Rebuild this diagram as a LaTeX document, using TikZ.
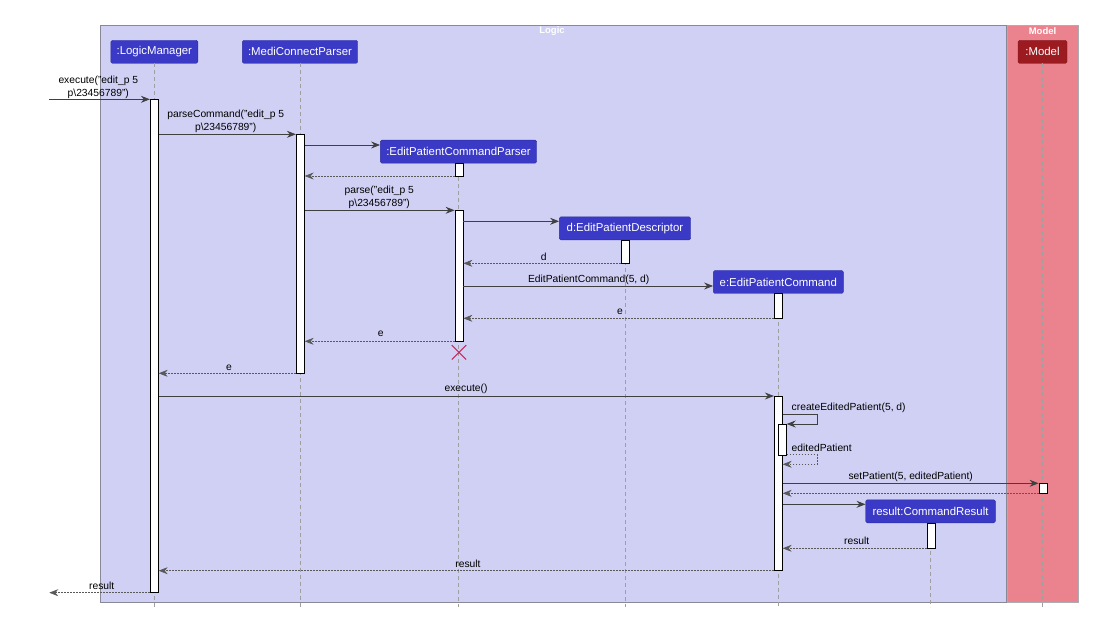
\documentclass[tikz,border=0pt]{standalone}
\usepackage{fontspec}
\setmainfont{Liberation Sans}
\usetikzlibrary{arrows.meta}
\definecolor{logicbg}{RGB}{208,208,245}
\definecolor{modelbg}{RGB}{235,131,142}
\definecolor{hdrblue}{RGB}{58,58,198}
\definecolor{hdrred}{RGB}{155,27,32}
\definecolor{framegray}{RGB}{136,136,150}
\definecolor{xred}{RGB}{200,40,90}
\newcommand{\myact}[4]{\node[actbox, minimum height={#4-#3}] (#1) at (#2,{(#3+#4)/2}) {};}
\begin{document}
\begin{tikzpicture}[x=1pt,y=-1pt,
  hd/.style={draw=hdrblue!80!black, fill=hdrblue, text=white, rounded corners=1.5pt,
    inner sep=0pt, minimum height=23, font=\fontsize{11.4}{13}\selectfont},
  hdm/.style={hd, draw=hdrred!80!black, fill=hdrred},
  life/.style={draw=gray!75, dash pattern=on 4pt off 3pt, line width=0.6pt},
  actbox/.style={draw=black, fill=white, line width=0.8pt, minimum width=8, inner sep=0pt},
  msg/.style={draw=black!75, line width=0.8pt, -{Stealth[length=9pt,width=7pt,inset=3pt]}},
  ret/.style={draw=black!65, line width=0.6pt, dash pattern=on 1.5pt off 1.5pt, -{Stealth[length=9pt,width=7pt,inset=3pt]}},
  lbl/.style={font=\fontsize{10.3}{13}\selectfont, inner sep=0pt, align=center, text=black},
  ttl/.style={font=\fontsize{9.5}{11}\selectfont\bfseries, text=white, inner sep=0pt},
]
\useasboundingbox (0,0) rectangle (1098,617);
\fill[white] (0,0) rectangle (1098,617);
% frames
\node[draw=framegray, fill=logicbg, line width=0.8pt, minimum width=906, minimum height=576.5, inner sep=0pt] (logicF) at (553.3,313.9) {};
\node[draw=framegray!70, fill=modelbg, line width=0.8pt, minimum width=71, minimum height=576.5, inner sep=0pt] (modelF) at (1042.8,313.9) {};
\node[ttl] (logicT) at (552,31.5) {Logic};
\node[ttl] (modelT) at (1042.5,31.5) {Model};
% headers
\node[hd, minimum width=87] (lm) at (154.3,51.8) {:LogicManager};
\node[hd, minimum width=115.4] (mcp) at (300,51.8) {:MediConnectParser};
\node[hd, minimum width=156.4] (epcp) at (458.5,151.7) {:EditPatientCommandParser};
\node[hd, minimum width=131.4] (desc) at (625,228.4) {d:EditPatientDescriptor};
\node[hd, minimum width=130] (epc) at (778.3,282) {e:EditPatientCommand};
\node[hd, minimum width=129.6] (cr) at (930.5,511.3) {result:CommandResult};
\node[hdm, minimum width=49] (mdl) at (1042.5,51.8) {:Model};
% lifelines
\draw[life] (lm.south) -- (lm.south |- 0,607);
\draw[life] (mcp.south) -- (mcp.south |- 0,607);
\draw[life] (epcp.south) -- (epcp.south |- 0,607);
\draw[life] (desc.south) -- (desc.south |- 0,607);
\draw[life] (epc.south) -- (epc.south |- 0,607);
\draw[life] (cr.south) -- (cr.south |- 0,607);
\draw[life] (mdl.south) -- (mdl.south |- 0,609);
% activations
\myact{lmA}{154.3}{99.3}{592.7}
\myact{mcpA}{300.3}{134.3}{373.3}
\myact{epcpA}{459}{163.3}{176}
\myact{epcpB}{459}{210.3}{341.3}
\myact{dA}{625.3}{240}{263.3}
\myact{eA}{778.3}{293.3}{318.3}
\myact{eB}{778.3}{396}{570.7}
\myact{eC}{782.3}{424}{455}
\myact{mA}{1043}{483.3}{493.3}
\myact{rA}{931}{523.3}{548.3}
% destroy mark
\node[inner sep=0pt, minimum size=14] (xmark) at (459,352.3) {};
\draw[xred, line width=1pt] (xmark.north west) -- (xmark.south east) (xmark.north east) -- (xmark.south west);
% free ends
\coordinate (inL) at (49.3,99.3);
\coordinate (outL) at (49.3,592.7);
% messages
\draw[msg] (inL) -- (lmA.west |- inL);
\node[lbl] (l1) at (98.3,87) {execute("edit\_p 5\\p\textbackslash 23456789")};
\draw[msg] (lmA.east |- 0,134.3) -- (mcpA.west |- 0,134.3);
\node[lbl] (l2) at (225.7,121) {parseCommand("edit\_p 5\\p\textbackslash 23456789")};
\draw[msg] (mcpA.east |- 0,145) -- (epcp.west |- 0,145);
\draw[ret] (epcpA.west |- 0,176) -- (mcpA.east |- 0,176);
\draw[msg] (mcpA.east |- 0,210.3) -- (epcpB.west |- 0,210.3);
\node[lbl] (l3) at (379.3,197) {parse("edit\_p 5\\p\textbackslash 23456789")};
\draw[msg] (epcpB.east |- 0,221.3) -- (desc.west |- 0,221.3);
\draw[ret] (dA.west |- 0,263.3) -- (epcpB.east |- 0,263.3);
\node[lbl] (l4) at (543.7,257.3) {d};
\draw[msg] (epcpB.east |- 0,286) -- (epc.west |- 0,286);
\node[lbl] (l5) at (588.7,280) {EditPatientCommand(5, d)};
\draw[ret] (eA.west |- 0,318.3) -- (epcpB.east |- 0,318.3);
\node[lbl] (l6) at (620,311.7) {e};
\draw[ret] (epcpB.west |- 0,341.3) -- (mcpA.east |- 0,341.3);
\node[lbl] (l7) at (380.7,333.7) {e};
\draw[ret] (mcpA.west |- 0,373.3) -- (lmA.east |- 0,373.3);
\node[lbl] (l8) at (229,367.7) {e};
\draw[msg] (lmA.east |- 0,396) -- (eB.west |- 0,396);
\node[lbl] (l9) at (466,388.5) {execute()};
\draw[msg] (eB.east |- 0,414) -- (817,414) -- (817,424) -- (eC.east |- 0,424);
\node[lbl, anchor=west] (l10) at (791.5,408) {createEditedPatient(5, d)};
\draw[ret] (eC.east |- 0,454.3) -- (817,454.3) -- (817,464.3) -- (eB.east |- 0,464.3);
\node[lbl, anchor=west] (l11) at (791.5,448) {editedPatient};
\draw[msg] (eB.east |- 0,483.3) -- (mA.west |- 0,483.3);
\node[lbl] (l12) at (910.7,476.7) {setPatient(5, editedPatient)};
\draw[ret] (mA.west |- 0,493.3) -- (eB.east |- 0,493.3);
\draw[msg] (eB.east |- 0,504.3) -- (cr.west |- 0,504.3);
\draw[ret] (rA.west |- 0,548.3) -- (eB.east |- 0,548.3);
\node[lbl] (l13) at (856.7,541.3) {result};
\draw[ret] (eB.west |- 0,570.7) -- (lmA.east |- 0,570.7);
\node[lbl] (l14) at (468,563.5) {result};
\draw[ret] (lmA.west |- outL) -- (outL);
\node[lbl] (l15) at (101.7,585.7) {result};
\end{tikzpicture}
\end{document}
